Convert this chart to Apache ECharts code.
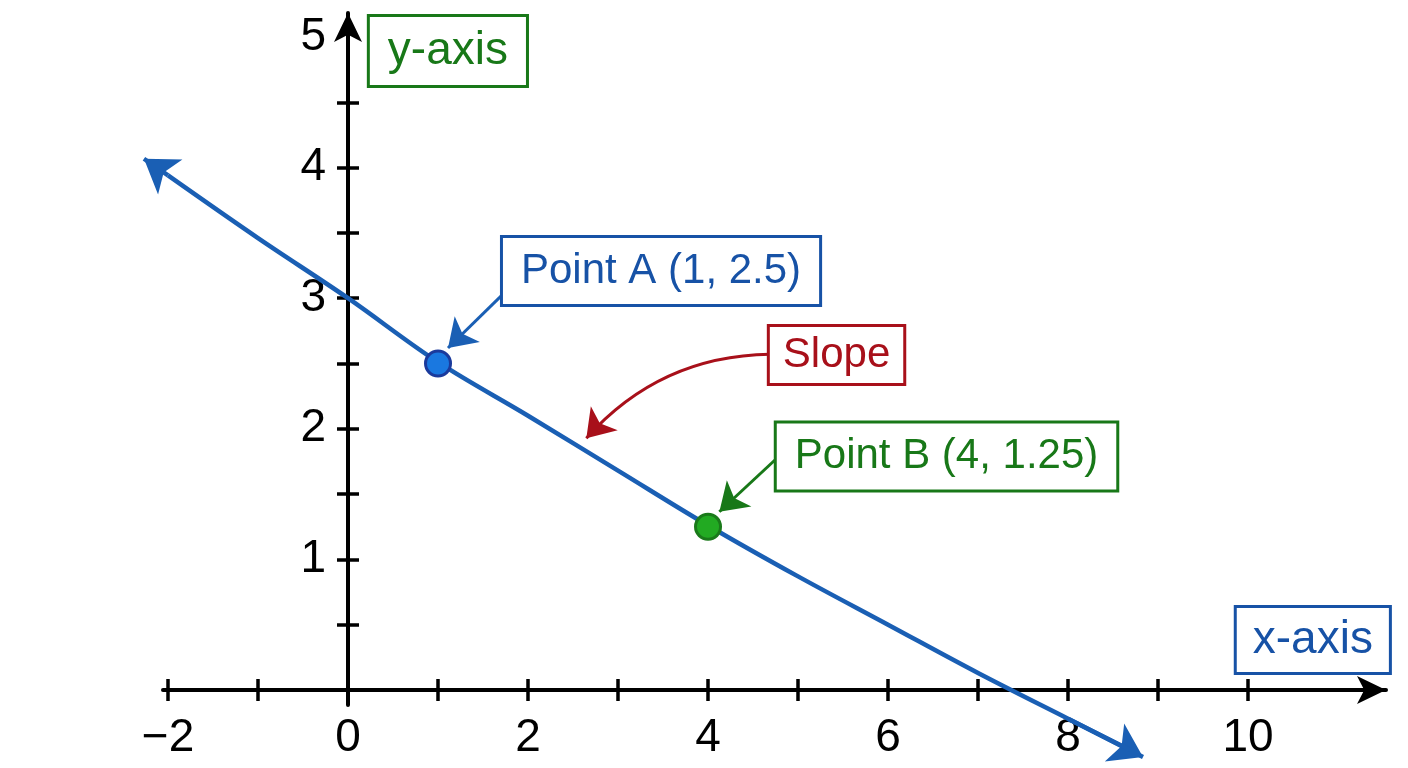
<!DOCTYPE html>
<html>
<head>
<meta charset="utf-8">
<script src="https://cdn.jsdelivr.net/npm/echarts@6/dist/echarts.min.js"></script>
<style>
html,body{margin:0;padding:0;background:#fff;}
#chart{width:1408px;height:768px;}
</style>
</head>
<body>
<div id="chart"></div>
<script>
// ---- data ----
const xTickValues = [-2, -1, 0, 1, 2, 3, 4, 5, 6, 7, 8, 9, 10];
const xLabelValues = [-2, 0, 2, 4, 6, 8, 10];
const yTickValues = [0.5, 1, 1.5, 2, 2.5, 3, 3.5, 4, 4.5];
const yLabelValues = [1, 2, 3, 4, 5];

const lineX = [-2, -1, 0, 1, 2, 3, 4, 5, 6, 7, 8, 8.69];
const lineY = [3.94, 3.46, 3.0, 2.51, 2.1, 1.68, 1.26, 0.87, 0.5, 0.13, -0.22, -0.46];

const pointA = [1, 2.5];
const pointB = [4, 1.25];

const boxTexts = ['y-axis', 'Point A (1, 2.5)', 'Slope', 'Point B (4, 1.25)', 'x-axis'];
const boxX = [1.11, 3.478, 5.428, 6.65, 10.72];
const boxY = [4.893, 3.208, 2.565, 1.788, 0.383];

// arrow segments [start, tip]
const lineStartArrow = [[-2, 3.94], [-2.267, 4.068]];
const lineEndArrow = [[8, -0.22], [8.833, -0.513]];
const arrowA = [[1.711, 3.024], [1.111, 2.619]];
const arrowB = [[4.744, 1.761], [4.126, 1.365]];
const arrowSlope = [[4.689, 2.57], [2.648, 1.927]];

// ---- styles ----
const FONT = "'Liberation Sans', Arial, Helvetica, sans-serif";
const BLUE = '#1a5fb4';
const BLUE_TEXT = '#1752a6';
const GREEN = '#187818';
const RED = '#a8101a';

const boxStyles = [
  {color: GREEN, fontSize: 46, lineHeight: 50, padding: [9, 18]},
  {color: BLUE_TEXT, fontSize: 42, lineHeight: 46, padding: [10, 18]},
  {color: RED, fontSize: 42, lineHeight: 46, padding: [5, 13]},
  {color: GREEN, fontSize: 42, lineHeight: 46, padding: [10, 18]},
  {color: BLUE_TEXT, fontSize: 46, lineHeight: 50, padding: [7, 16]}
];

const XMIN = -2.0556, XMAX = 11.533, YMIN = -0.1149, YMAX = 5.184;
const GRID = {left: 163, right: 22, top: 13, bottom: 63};
const W = 1408, H = 768;
// pixel position of the zero lines inside the grid
const zeroXpx = GRID.left + (0 - XMIN) / (XMAX - XMIN) * (W - GRID.left - GRID.right);
const zeroYpx = (H - GRID.bottom) - (0 - YMIN) / (YMAX - YMIN) * (H - GRID.top - GRID.bottom);

function fmt(v) {
  return v < 0 ? '\u2212' + Math.abs(v) : String(v);
}

const chart = echarts.init(document.getElementById('chart'), null, {renderer: 'canvas'});

const baseX = {type: 'value', min: XMIN, max: XMAX, splitLine: {show: false}};
const baseY = {type: 'value', min: YMIN, max: YMAX, splitLine: {show: false}};
const tickStyle = {color: '#000', width: 3.5};

const option = {
  animation: false,
  backgroundColor: '#ffffff',
  grid: Object.assign({containLabel: false}, GRID),
  xAxis: [
    Object.assign({}, baseX, {
      position: 'bottom',
      offset: -((H - GRID.bottom) - zeroYpx),
      axisLine: {show: true, onZero: false,
        lineStyle: {color: '#000', width: 4},
        symbol: ['none', 'arrow'], symbolSize: [21, 29]},
      axisTick: {show: true, inside: false, length: 11, customValues: xTickValues, lineStyle: tickStyle},
      axisLabel: {show: true, customValues: xLabelValues, margin: 25, formatter: fmt,
        fontSize: 46, fontFamily: FONT, color: '#000'}
    }),
    Object.assign({}, baseX, {
      position: 'top',
      offset: -(zeroYpx - GRID.top),
      axisLine: {show: false, onZero: false},
      axisTick: {show: true, inside: false, length: 11, customValues: xTickValues, lineStyle: tickStyle},
      axisLabel: {show: false}
    })
  ],
  yAxis: [
    Object.assign({}, baseY, {
      position: 'left',
      offset: -(zeroXpx - GRID.left),
      axisLine: {show: true, onZero: false,
        lineStyle: {color: '#000', width: 4},
        symbol: ['none', 'arrow'], symbolSize: [21, 29]},
      axisTick: {show: true, inside: false, length: 11, customValues: yTickValues, lineStyle: tickStyle},
      axisLabel: {show: true, customValues: yLabelValues, margin: 22, formatter: fmt,
        fontSize: 46, fontFamily: FONT, color: '#000'}
    }),
    Object.assign({}, baseY, {
      position: 'right',
      offset: -((W - GRID.right) - zeroXpx),
      axisLine: {show: false, onZero: false},
      axisTick: {show: true, inside: false, length: 11, customValues: yTickValues, lineStyle: tickStyle},
      axisLabel: {show: false}
    })
  ],
  series: [
    {
      type: 'line',
      data: lineX.map((x, i) => [x, lineY[i]]),
      showSymbol: false,
      smooth: 0.35,
      clip: false,
      lineStyle: {color: BLUE, width: 4.5},
      z: 3
    },
    {
      type: 'lines',
      coordinateSystem: 'cartesian2d',
      clip: false,
      symbol: ['none', 'arrow'],
      symbolSize: [23, 32],
      lineStyle: {color: BLUE, width: 4.5, opacity: 1},
      itemStyle: {color: BLUE},
      data: [{coords: lineStartArrow}, {coords: lineEndArrow}],
      z: 3
    },
    {
      type: 'lines',
      coordinateSystem: 'cartesian2d',
      clip: false,
      symbol: ['none', 'arrow'],
      symbolSize: [22, 27],
      data: [
        {coords: arrowA, lineStyle: {color: BLUE, width: 3, opacity: 1, curveness: 0}},
        {coords: arrowB, lineStyle: {color: GREEN, width: 3, opacity: 1, curveness: 0}},
        {coords: arrowSlope, lineStyle: {color: RED, width: 3, opacity: 1, curveness: -0.22}}
      ],
      z: 4
    },
    {
      type: 'scatter',
      clip: false,
      symbolSize: 25,
      data: [
        {value: pointA, itemStyle: {color: '#1a78e0', borderColor: '#1b3a9c', borderWidth: 3, opacity: 1}},
        {value: pointB, itemStyle: {color: '#22aa22', borderColor: '#1a7a1a', borderWidth: 3, opacity: 1}}
      ],
      z: 5
    },
    {
      type: 'scatter',
      clip: false,
      symbolSize: 0,
      silent: true,
      itemStyle: {opacity: 1},
      data: boxTexts.map((t, i) => ({
        value: [boxX[i], boxY[i]],
        name: t,
        label: {
          show: true,
          position: 'inside',
          formatter: '{b}',
          fontFamily: FONT,
          fontSize: boxStyles[i].fontSize,
          lineHeight: boxStyles[i].lineHeight,
          color: boxStyles[i].color,
          borderColor: boxStyles[i].color,
          borderWidth: 3,
          padding: boxStyles[i].padding,
          backgroundColor: '#ffffff',
          opacity: 1
        }
      })),
      z: 6
    }
  ]
};

chart.setOption(option);
</script>
</body>
</html>
